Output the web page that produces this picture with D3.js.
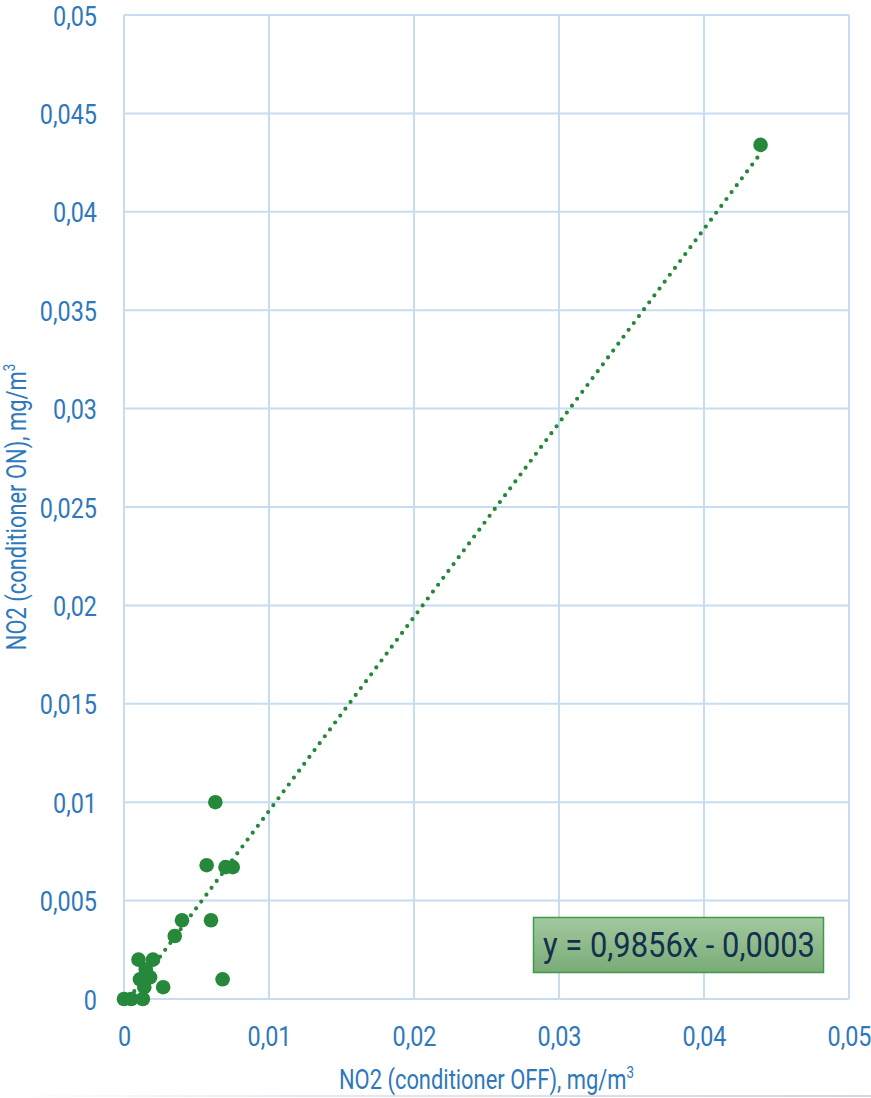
<!DOCTYPE html>
<html>
<head>
<meta charset="utf-8">
<script src="https://cdn.jsdelivr.net/npm/d3@7"></script>
<style>
  html, body { margin: 0; padding: 0; background: #ffffff; }
  svg { display: block; }
  text { font-family: Roboto, "Noto Sans", sans-serif; }
</style>
</head>
<body>
<script>
// NO2 concentration, conditioner OFF (x) vs conditioner ON (y), mg/m3
const xValues = [0.0439, 0.0063, 0.0057, 0.0070, 0.0075, 0.0040, 0.0060, 0.0035,
                 0.0010, 0.0020, 0.0011, 0.0018, 0.0015, 0.0027, 0.0014, 0.0068,
                 0.0000, 0.0005, 0.0013];
const yValues = [0.0434, 0.0100, 0.0068, 0.0067, 0.0067, 0.0040, 0.0040, 0.0032,
                 0.0020, 0.0020, 0.0010, 0.0011, 0.0015, 0.0006, 0.0006, 0.0010,
                 0.0000, 0.0000, 0.0000];

// Linear trend line coefficients
const slope = 0.9856;
const intercept = -0.0003;
const equationLabel = "y = 0,9856x - 0,0003";

const xTicks = [0, 0.01, 0.02, 0.03, 0.04, 0.05];
const yTicks = [0, 0.005, 0.01, 0.015, 0.02, 0.025, 0.03, 0.035, 0.04, 0.045, 0.05];

const xTitle = "NO2 (conditioner OFF), mg/m";
const yTitle = "NO2 (conditioner ON), mg/m";

const W = 871, H = 1098;
const margin = { left: 124, right: 22, top: 15, bottom: 99 };

const svg = d3.select("body").append("svg").attr("width", W).attr("height", H);

const x = d3.scaleLinear().domain([0, 0.05]).range([margin.left, W - margin.right]);
const y = d3.scaleLinear().domain([0, 0.05]).range([H - margin.bottom, margin.top]);

const fmt = v => v === 0 ? "0" : String(+v.toFixed(3)).replace(".", ",");

const gridColor = "#c6dcf1";
const labelColor = "#2e78bb";

// Narrow the glyphs horizontally so the labels keep a condensed look
function condense(nodes, k) {
  nodes.forEach(n => {
    const w = n.getComputedTextLength();
    n.setAttribute("textLength", w * k);
    n.setAttribute("lengthAdjust", "spacingAndGlyphs");
  });
}

// Gradient rule along the bottom edge
const defs = svg.append("defs");
const rule = defs.append("linearGradient").attr("id", "rule").attr("x1", 0).attr("x2", 1);
rule.append("stop").attr("offset", 0).attr("stop-color", "#ffffff");
rule.append("stop").attr("offset", 0.4).attr("stop-color", "#e6e6ee");
rule.append("stop").attr("offset", 1).attr("stop-color", "#d6d6e2");
svg.append("rect").attr("x", 0).attr("y", H - 3).attr("width", W).attr("height", 2)
  .attr("fill", "url(#rule)");

// Grid
const grid = svg.append("g");
grid.selectAll("line.gx").data(xTicks).join("line")
  .attr("x1", d => x(d)).attr("x2", d => x(d))
  .attr("y1", y(0.05)).attr("y2", y(0))
  .attr("stroke", gridColor).attr("stroke-width", 2);
grid.selectAll("line.gy").data(yTicks).join("line")
  .attr("x1", x(0)).attr("x2", x(0.05))
  .attr("y1", d => y(d)).attr("y2", d => y(d))
  .attr("stroke", gridColor).attr("stroke-width", 2);

// Axes (labels only)
const xAxis = svg.append("g").attr("transform", `translate(0,${y(0) + 47})`)
  .call(d3.axisBottom(x).tickValues(xTicks).tickFormat(fmt).tickSize(0).tickPadding(0));
const yAxis = svg.append("g").attr("transform", `translate(${x(0) - 27},0)`)
  .call(d3.axisLeft(y).tickValues(yTicks).tickFormat(fmt).tickSize(0).tickPadding(0));
[xAxis, yAxis].forEach(a => {
  a.select(".domain").remove();
  a.selectAll("text").attr("fill", labelColor).attr("font-size", 28)
    .attr("font-family", null);
});
xAxis.selectAll("text").attr("dy", 0);
yAxis.selectAll("text").attr("dy", "0.36em");

// Ticks: "0,05" is about 44px wide
const probe = yAxis.selectAll("text").nodes().find(n => n.textContent === "0,05");
const kTick = 44 / probe.getComputedTextLength();
condense(xAxis.selectAll("text").nodes(), kTick);
condense(yAxis.selectAll("text").nodes(), kTick);

// Axis titles
const xt = svg.append("text")
  .attr("x", (x(0) + x(0.05)) / 2).attr("y", 1089)
  .attr("text-anchor", "middle").attr("fill", labelColor).attr("font-size", 28);
xt.append("tspan").text(xTitle);
xt.append("tspan").attr("font-size", 17).attr("dy", -11).text("3");
const kx = 295 / xt.node().getComputedTextLength();
condense(xt.selectAll("tspan").nodes(), kx);

const yt = svg.append("text")
  .attr("transform", `translate(26,${(y(0) + y(0.05)) / 2}) rotate(-90)`)
  .attr("text-anchor", "middle").attr("fill", labelColor).attr("font-size", 28);
yt.append("tspan").text(yTitle);
yt.append("tspan").attr("font-size", 17).attr("dy", -11).text("3");
condense(yt.selectAll("tspan").nodes(), kx);

// Clip to plot area
defs.append("clipPath").attr("id", "plot").append("rect")
  .attr("x", x(0)).attr("y", y(0.05))
  .attr("width", x(0.05) - x(0)).attr("height", y(0) - y(0.05));

// Trend line over the data range
const xMin = d3.min(xValues), xMax = d3.max(xValues);
svg.append("line")
  .attr("clip-path", "url(#plot)")
  .attr("x1", x(xMin)).attr("y1", y(slope * xMin + intercept))
  .attr("x2", x(xMax)).attr("y2", y(slope * xMax + intercept))
  .attr("stroke", "#25883b").attr("stroke-width", 4.2)
  .attr("stroke-linecap", "round").attr("stroke-dasharray", "0 8.6");

// Points
svg.append("g").selectAll("circle")
  .data(xValues.map((v, i) => [v, yValues[i]]))
  .join("circle")
  .attr("cx", d => x(d[0])).attr("cy", d => y(d[1])).attr("r", 7.3)
  .attr("fill", "#25883b");

// Equation label
const eq = defs.append("linearGradient").attr("id", "eqfill").attr("x1", 0).attr("x2", 0).attr("y1", 0).attr("y2", 1);
eq.append("stop").attr("offset", 0).attr("stop-color", "#a2c9a0");
eq.append("stop").attr("offset", 1).attr("stop-color", "#79ab77");
svg.append("rect").attr("x", 533.5).attr("y", 917.5).attr("width", 290).attr("height", 55)
  .attr("fill", "url(#eqfill)").attr("stroke", "#3f9a4a").attr("stroke-width", 1.5);
const eqText = svg.append("text").attr("x", 679).attr("y", 957)
  .attr("text-anchor", "middle").attr("fill", "#14304d").attr("font-size", 35)
  .text(equationLabel);
eqText.attr("textLength", 272).attr("lengthAdjust", "spacingAndGlyphs");
</script>
</body>
</html>
